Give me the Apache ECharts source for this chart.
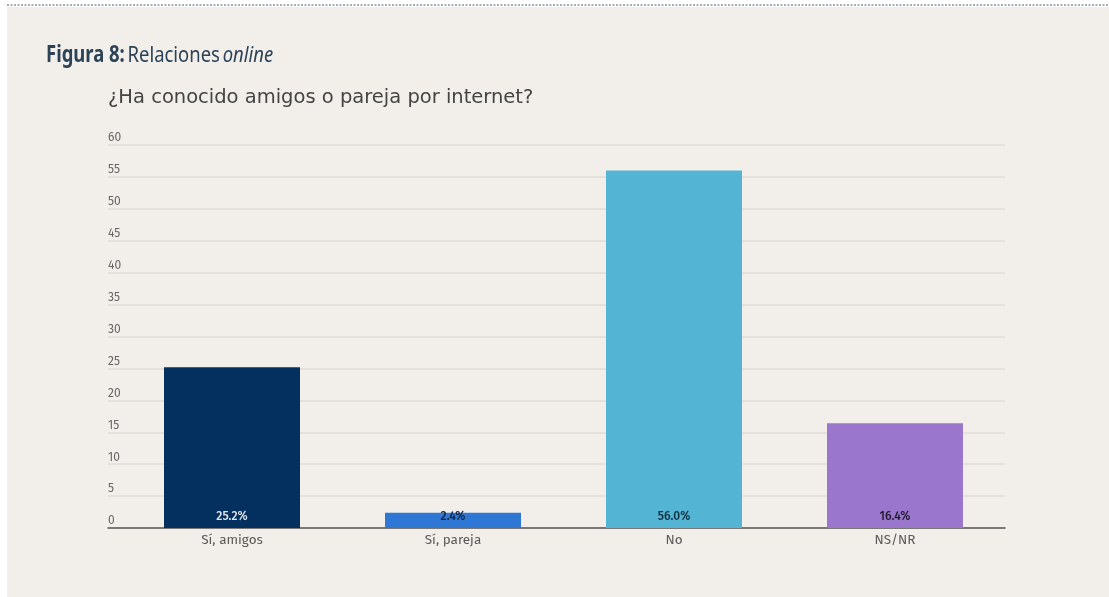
<!DOCTYPE html>
<html>
<head>
<meta charset="utf-8">
<script src="https://cdn.jsdelivr.net/npm/echarts@6/dist/echarts.min.js"></script>
<style>
  html, body { margin: 0; padding: 0; background: #ffffff; }
  #chart { width: 1109px; height: 597px; }
</style>
</head>
<body>
<div id="chart"></div>
<script>
// Survey answers: "¿Ha conocido amigos o pareja por internet?"
const categories = ['Sí, amigos', 'Sí, pareja', 'No', 'NS/NR'];
const percentages = [25.2, 2.4, 56.0, 16.4];
const barColors = ['#03305f', '#2f77d5', '#53b4d4', '#9a77cc'];
const labelColors = ['#dfe3ea', '#10243d', '#12303f', '#221a33'];
const yTicks = [0, 5, 10, 15, 20, 25, 30, 35, 40, 45, 50, 55, 60];

const chart = echarts.init(document.getElementById('chart'), null, { renderer: 'canvas' });

const yMin = yTicks[0];
const yMax = yTicks[yTicks.length - 1];
const yStep = yTicks[1] - yTicks[0];
const titleFont = 'Noto Sans, sans-serif';

chart.setOption({
  backgroundColor: '#ffffff',
  animation: false,
  graphic: [
    { type: 'rect', left: 7, top: 7, shape: { width: 1102, height: 590 }, style: { fill: '#f2efea' }, z: -10 },
    { type: 'line', shape: { x1: 7, y1: 5, x2: 1109, y2: 5 }, style: { stroke: '#8a929c', lineWidth: 1.5, lineDash: [2, 1.5] }, z: -9 },
    {
      // condensed figure caption
      type: 'text', x: 46, y: 44, scaleX: 0.82, scaleY: 1,
      style: {
        text: '{b|Figura 8:} {r|Relaciones} {i|online}',
        rich: {
          b: { fontFamily: titleFont, fontWeight: 'bold', fontSize: 22.5, fill: '#2c4257' },
          r: { fontFamily: titleFont, fontSize: 22.5, fill: '#2c4257' },
          i: { fontFamily: titleFont, fontStyle: 'italic', fontSize: 22.5, fill: '#2c4257' }
        }
      }
    },
    {
      type: 'text', left: 108, top: 88,
      style: { text: '¿Ha conocido amigos o pareja por internet?', fontFamily: 'DejaVu Sans, sans-serif', fontSize: 19.5, fill: '#444444' }
    }
  ],
  grid: [
    { left: 108, right: 104, top: 145, bottom: 69 },
    { left: 121.5, right: 103.5, top: 145, bottom: 69 }
  ],
  xAxis: [
    {
      gridIndex: 0, type: 'value', min: 0, max: 1,
      axisLine: { show: true, lineStyle: { color: '#555555', width: 1.5 } },
      axisTick: { show: false }, axisLabel: { show: false }, splitLine: { show: false }
    },
    {
      gridIndex: 1, type: 'category', data: categories,
      axisLine: { show: false }, axisTick: { show: false },
      axisLabel: { color: '#5a5a5a', fontFamily: 'Fira Sans, Open Sans, sans-serif', fontSize: 13.5, margin: 5 }
    }
  ],
  yAxis: [
    {
      gridIndex: 0, type: 'value', min: yMin, max: yMax, interval: yStep,
      axisLine: { show: false }, axisTick: { show: false },
      axisLabel: {
        inside: true, margin: 0, align: 'left', verticalAlign: 'bottom',
        padding: [0, 0, 1, 0],
        color: '#666666', fontFamily: 'Fira Sans, Open Sans, sans-serif', fontSize: 12
      },
      splitLine: { show: true, lineStyle: { color: '#e1ddd7', width: 1.5 } }
    },
    {
      gridIndex: 1, type: 'value', min: yMin, max: yMax, interval: yStep,
      show: false, splitLine: { show: false }
    }
  ],
  series: [{
    type: 'bar',
    xAxisIndex: 1, yAxisIndex: 1,
    barWidth: 136,
    data: percentages.map((v, i) => ({
      value: v,
      itemStyle: { color: barColors[i] },
      label: { color: labelColors[i] }
    })),
    label: {
      show: true, position: 'insideBottom', distance: 5,
      fontFamily: 'Fira Sans, Open Sans, sans-serif', fontSize: 12, fontWeight: 500,
      formatter: p => p.value.toFixed(1) + '%'
    }
  }]
});
</script>
</body>
</html>
